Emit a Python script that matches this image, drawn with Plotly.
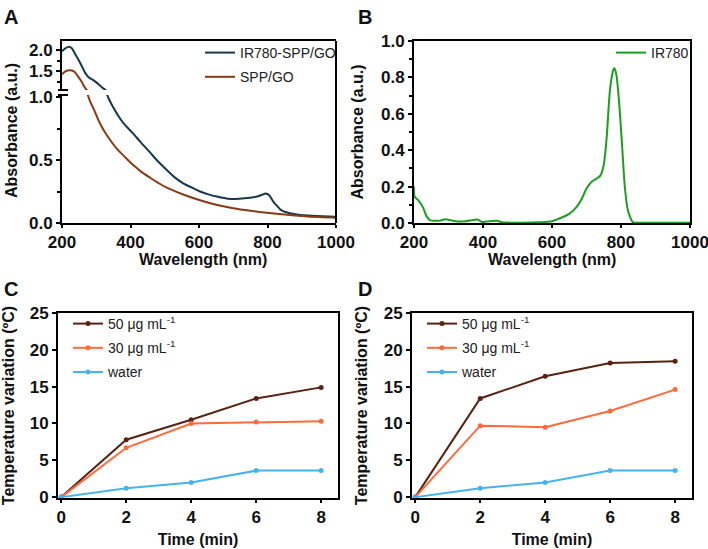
import plotly.graph_objects as go

W, H = 708, 549

# ---------------- data ----------------
# Panel A: absorbance spectra
wl_ir_spp = [200, 210, 220, 228, 240, 250, 260, 268, 277, 290, 300, 310, 320, 330, 336, 345, 360, 380,
             408, 430, 457, 480, 506, 530, 554, 580, 603, 630, 652, 680, 700, 725, 749, 770, 785,
             795, 805, 817, 830, 841, 855, 866, 895, 930, 960, 1000]
abs_ir_spp = [1.97, 2.04, 2.08, 2.05, 1.88, 1.74, 1.58, 1.45, 1.36, 1.29, 1.23, 1.16, 1.09, 1.03, 0.99,
              0.94, 0.87, 0.79, 0.71, 0.64, 0.56, 0.49, 0.42, 0.36, 0.315, 0.28, 0.25, 0.225, 0.21,
              0.195, 0.19, 0.195, 0.20, 0.21, 0.225, 0.235, 0.22, 0.17, 0.13, 0.10, 0.085, 0.077,
              0.063, 0.058, 0.054, 0.05]
wl_spp = [200, 210, 222, 235, 245, 257, 265, 272, 280, 295, 311, 330, 360, 385, 408, 430, 457, 480,
          506, 550, 603, 650, 700, 750, 798, 850, 900, 950, 1000]
abs_spp = [1.42, 1.49, 1.52, 1.49, 1.39, 1.25, 1.13, 1.05, 0.98, 0.89, 0.79, 0.70, 0.59, 0.52, 0.46,
           0.41, 0.36, 0.32, 0.28, 0.23, 0.18, 0.145, 0.117, 0.097, 0.082, 0.068, 0.056, 0.047, 0.042]

# Panel B: IR780 spectrum
wl_ir = [200, 202, 212, 225, 237, 246, 260, 275, 290, 304, 320, 333, 350, 372, 386, 396, 410, 420,
         440, 455, 480, 520, 560, 600, 623, 650, 672, 688, 700, 715, 730, 740, 749, 758, 768, 775,
         780, 785, 792, 802, 812, 820, 826, 834, 850, 900, 950, 1000]
abs_ir = [0.20, 0.145, 0.126, 0.09, 0.035, 0.016, 0.012, 0.013, 0.02, 0.016, 0.01, 0.008, 0.01, 0.016,
          0.018, 0.006, 0.008, 0.01, 0.012, 0.004, 0.002, 0.002, 0.004, 0.01, 0.026, 0.05, 0.09,
          0.14, 0.19, 0.227, 0.245, 0.26, 0.31, 0.46, 0.73, 0.82, 0.85, 0.83, 0.72, 0.46, 0.18,
          0.07, 0.035, 0.005, 0.002, 0.002, 0.002, 0.002]

# Panels C, D: photothermal heating
time_min = [0, 2, 4, 6, 8]
c_50 = [0, 7.8, 10.5, 13.4, 14.9]
c_30 = [0, 6.7, 10.0, 10.2, 10.3]
c_water = [0, 1.2, 2.0, 3.6, 3.6]
d_50 = [0, 13.4, 16.4, 18.2, 18.45]
d_30 = [0, 9.7, 9.5, 11.7, 14.6]
d_water = [0, 1.2, 2.0, 3.6, 3.6]

x_ticks_wl = [200, 400, 600, 800, 1000]
x_ticks_t = [0, 2, 4, 6, 8]
y_ticks_t = [0, 5, 10, 15, 20, 25]

# ---------------- style ----------------
FONT = "Liberation Sans, Arial, sans-serif"
C_IRSPP = "#17394a"
C_SPP = "#8a3a12"
C_IR = "#1e9e1e"
C_50 = "#5a2212"
C_30 = "#ff6a3a"
C_W = "#45b3f0"


def px(x):
    return x / W


def py(y):
    return 1 - y / H


tickfont = dict(family=FONT, size=17, color="#111", weight="bold")
titlefont = dict(family=FONT, size=16, color="#111", weight="bold")
axis_common = dict(showline=True, linecolor="black", linewidth=2, ticks="outside",
                   ticklen=4, tickwidth=2, tickcolor="black", showgrid=False,
                   zeroline=False, tickfont=tickfont, automargin=False,
                   ticklabeloverflow="allow")
xaxis_common = dict(axis_common, ticklen=3)

fig = go.Figure()

# Panel A lower & upper segments (broken axis)
for xa, ya, show in (("x", "y", True), ("x2", "y2", False)):
    fig.add_trace(go.Scatter(x=wl_ir_spp, y=abs_ir_spp, mode="lines", name="IR780-SPP/GO",
                             line=dict(color=C_IRSPP, width=2, shape="spline"),
                             xaxis=xa, yaxis=ya, showlegend=show, legend="legend",
                             legendgroup="a1"))
    fig.add_trace(go.Scatter(x=wl_spp, y=abs_spp, mode="lines", name="SPP/GO",
                             line=dict(color=C_SPP, width=2, shape="spline"),
                             xaxis=xa, yaxis=ya, showlegend=show, legend="legend",
                             legendgroup="a2"))

# Panel B
fig.add_trace(go.Scatter(x=wl_ir, y=abs_ir, mode="lines", name="IR780",
                         line=dict(color=C_IR, width=2, shape="spline"),
                         xaxis="x3", yaxis="y3", legend="legend2"))

# Panels C & D
for (xa, ya, lg, s50, s30, sw) in (("x4", "y4", "legend3", c_50, c_30, c_water),
                                    ("x5", "y5", "legend4", d_50, d_30, d_water)):
    for name, vals, col, grp in (("50 μg mL<sup>-1</sup>", s50, C_50, "g1"),
                                 ("30 μg mL<sup>-1</sup>", s30, C_30, "g2"),
                                 ("water", sw, C_W, "g3")):
        fig.add_trace(go.Scatter(x=time_min, y=vals, mode="lines+markers", name=name,
                                 line=dict(color=col, width=2),
                                 marker=dict(color=col, size=5),
                                 xaxis=xa, yaxis=ya, legend=lg, legendgroup=grp,
                                 cliponaxis=False))

# ---------------- layout ----------------
A_x = [px(62), px(336)]
A_low = [py(223), py(95)]
A_up = [py(90), py(41)]
B_x = [px(414), px(690)]
B_y = [py(223), py(41)]
C_x = [px(58), px(338)]
CD_y = [py(498), py(313)]
D_x = [px(412), px(692)]

leg_common = dict(font=dict(family=FONT, size=14, color="#222"), bgcolor="rgba(0,0,0,0)",
                  xanchor="left", yanchor="top", tracegroupgap=3)

fig.update_layout(
    width=W, height=H, margin=dict(l=0, r=0, t=0, b=0),
    paper_bgcolor="white", plot_bgcolor="white",
    font=dict(family=FONT, color="#111"),
    xaxis=dict(domain=A_x, anchor="y", range=[200, 1000], tickvals=x_ticks_wl, **xaxis_common),
    yaxis=dict(domain=A_low, anchor="x", range=[0, 1.016], tickvals=[0, 0.5, 1.0],
               tickformat=".1f", minor=dict(ticks="outside", ticklen=3, tickwidth=2,
                                            tickcolor="black", dtick=0.25, tick0=0),
               **axis_common),
    xaxis2=dict(domain=A_x, anchor="y2", range=[200, 1000], showline=True, linecolor="black",
                linewidth=2, side="top", showticklabels=False, ticks="", showgrid=False,
                zeroline=False, automargin=False),
    yaxis2=dict(domain=A_up, anchor="x2", range=[1.048, 2.214], tickvals=[1.5, 2.0],
                tickformat=".1f", minor=dict(ticks="outside", ticklen=3, tickwidth=2,
                                             tickcolor="black", tickvals=[1.25, 1.75]),
                **axis_common),
    xaxis3=dict(domain=B_x, anchor="y3", range=[200, 1000], tickvals=x_ticks_wl, mirror=True,
                **xaxis_common),
    yaxis3=dict(domain=B_y, anchor="x3", range=[0, 1.0], dtick=0.2, tickformat=".1f",
                mirror=True, minor=dict(ticks="outside", ticklen=3, tickwidth=2,
                                        tickcolor="black", dtick=0.1),
                title=dict(text="Absorbance (a.u.)", font=titlefont, standoff=13), **axis_common),
    xaxis4=dict(domain=C_x, anchor="y4", range=[-0.1, 8.52], tickvals=x_ticks_t, mirror=True,
                title=dict(text="Time (min)", font=titlefont, standoff=7), **xaxis_common),
    yaxis4=dict(domain=CD_y, anchor="x4", range=[-0.12, 25], tickvals=y_ticks_t, mirror=True,
                title=dict(text="Temperature variation (ºC)", font=titlefont, standoff=12),
                **axis_common),
    xaxis5=dict(domain=D_x, anchor="y5", range=[-0.1, 8.52], tickvals=x_ticks_t, mirror=True,
                title=dict(text="Time (min)", font=titlefont, standoff=7), **xaxis_common),
    yaxis5=dict(domain=CD_y, anchor="x5", range=[-0.12, 25], tickvals=y_ticks_t, mirror=True,
                title=dict(text="Temperature variation (ºC)", font=titlefont, standoff=12),
                **axis_common),
    legend=dict(x=px(200), y=py(37), **leg_common),
    legend2=dict(x=px(611), y=py(37), **leg_common),
    legend3=dict(x=px(68), y=py(308), **leg_common),
    legend4=dict(x=px(422), y=py(308), **leg_common),
)

# Frame pieces for broken-axis panel A: right border and break marks
shapes = [
    dict(type="line", xref="paper", yref="paper", x0=A_x[1], x1=A_x[1], y0=A_low[0], y1=A_up[1],
         line=dict(color="black", width=2)),
    dict(type="line", xref="paper", yref="paper", x0=px(58), x1=px(68), y0=A_low[1], y1=A_low[1],
         line=dict(color="black", width=2)),
    dict(type="line", xref="paper", yref="paper", x0=px(58), x1=px(68), y0=A_up[0], y1=A_up[0],
         line=dict(color="black", width=2)),
]
fig.update_layout(shapes=shapes)

annots = []
for lab, x, y in (("A", 2, 4), ("B", 356, 4), ("C", 2, 276), ("D", 356, 276)):
    annots.append(dict(text=lab, x=px(x), y=py(y), xref="paper", yref="paper", xanchor="left",
                       yanchor="top", showarrow=False,
                       font=dict(family=FONT, size=20, color="#111", weight="bold")))
annots.append(dict(text="Absorbance (a.u.)", x=px(11), y=py(131), xref="paper", yref="paper",
                   textangle=-90, showarrow=False, xanchor="center", yanchor="middle",
                   font=titlefont))
for xc in (sum(A_x) / 2 + px(4), sum(B_x) / 2):
    annots.append(dict(text="Wavelength (nm)", x=xc, y=py(260), xref="paper", yref="paper",
                       showarrow=False, xanchor="center", yanchor="middle", font=titlefont))
fig.update_layout(annotations=annots)

fig.write_html("out.html", config={"displayModeBar": False},
               post_script="document.body.style.margin='0';")
